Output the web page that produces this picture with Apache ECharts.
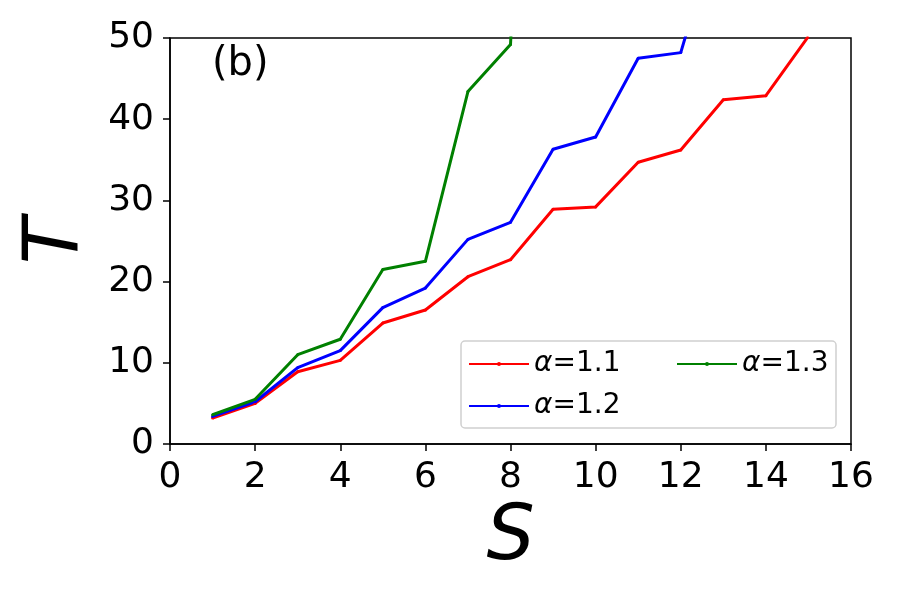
<!DOCTYPE html>
<html>
<head>
<meta charset="utf-8">
<script src="https://cdn.jsdelivr.net/npm/echarts@6/dist/echarts.min.js"></script>
<style>
  html, body { margin: 0; padding: 0; background: #fff; }
  #main { width: 900px; height: 600px; }
</style>
</head>
<body>
<div id="main"></div>
<script>
var S = [1, 2, 3, 4, 5, 6, 7, 8, 9, 10, 11, 12, 13, 14, 15];
var T_a11 = [3.2, 5.0, 8.9, 10.3, 14.9, 16.5, 20.6, 22.7, 28.9, 29.2, 34.7, 36.2, 42.4, 42.9, 50.2];
var T_a12 = [3.4, 5.2, 9.4, 11.5, 16.8, 19.2, 25.2, 27.3, 36.3, 37.8, 47.5, 48.2, 66];
var T_a13 = [3.6, 5.5, 11.0, 12.9, 21.5, 22.5, 43.4, 49.2, 150];
var xTicks = [0, 16, 2];
var yTicks = [0, 50, 10];

function pairs(ys) {
  return ys.map(function (v, i) { return [S[i], v]; });
}

var font = 'DejaVu Sans';
var chartDom = document.getElementById('main');
var myChart = echarts.init(chartDom);
var option;

function mkSeries(name, ys, color) {
  return {
    name: name,
    type: 'line',
    data: pairs(ys),
    symbol: 'circle',
    symbolSize: 3,
    showSymbol: true,
    clip: true,
    lineStyle: { color: color, width: 3 },
    itemStyle: { color: color },
    animation: false
  };
}

var legendText = {
  fontFamily: font,
  fontSize: 28,
  color: '#000',
  rich: { a: { fontFamily: font, fontSize: 28, fontStyle: 'italic', color: '#000' } }
};
var legendFmt = function (name) { return '{a|α}' + name.slice(1); };

option = {
  backgroundColor: '#fff',
  grid: {
    left: 170, right: 49, top: 38, bottom: 156,
    outerBoundsMode: 'none',
    containLabel: false,
    show: true, borderColor: '#000', borderWidth: 1.5
  },
  graphic: [
    {
      type: 'rect',
      shape: { x: 461, y: 341, width: 375, height: 87, r: 4 },
      style: { fill: '#fff', stroke: '#d0d0d0', lineWidth: 1.5 },
      z: 5
    },
    {
      type: 'text',
      left: 212, top: 45,
      style: { text: '(b)', font: '40px "DejaVu Sans"', fill: '#000' },
      z: 10
    }
  ],
  legend: [
    {
      data: ['α=1.1', 'α=1.2'],
      orient: 'vertical',
      left: 468, top: 350,
      padding: 0,
      itemWidth: 60, itemHeight: 5, itemGap: 14,
      selectedMode: false,
      formatter: legendFmt,
      textStyle: legendText,
      z: 10
    },
    {
      data: ['α=1.3'],
      orient: 'vertical',
      left: 676, top: 350,
      padding: 0,
      itemWidth: 60, itemHeight: 5,
      selectedMode: false,
      formatter: legendFmt,
      textStyle: legendText,
      z: 10
    }
  ],
  xAxis: {
    type: 'value',
    min: xTicks[0], max: xTicks[1], interval: xTicks[2],
    name: 'S',
    nameLocation: 'middle',
    nameGap: 56,
    nameTextStyle: { fontFamily: font, fontSize: 76, fontStyle: 'italic', color: '#000' },
    axisLine: { show: true, onZero: false, lineStyle: { color: '#000', width: 1.5 } },
    axisTick: { show: true, inside: false, length: 7, lineStyle: { color: '#000', width: 1.5 } },
    axisLabel: { fontFamily: font, fontSize: 36, color: '#000', margin: 16 },
    splitLine: { show: false }
  },
  yAxis: {
    type: 'value',
    min: yTicks[0], max: yTicks[1], interval: yTicks[2],
    name: 'T',
    nameLocation: 'middle',
    nameGap: 74,
    nameTextStyle: { fontFamily: font, fontSize: 76, fontStyle: 'italic', color: '#000' },
    axisLine: { show: true, onZero: false, lineStyle: { color: '#000', width: 1.5 } },
    axisTick: { show: true, inside: false, length: 7, lineStyle: { color: '#000', width: 1.5 } },
    axisLabel: { fontFamily: font, fontSize: 36, color: '#000', margin: 16 },
    splitLine: { show: false }
  },
  series: [
    mkSeries('α=1.1', T_a11, '#ff0000'),
    mkSeries('α=1.2', T_a12, '#0000ff'),
    mkSeries('α=1.3', T_a13, '#008000')
  ]
};

option && myChart.setOption(option);
</script>
</body>
</html>
